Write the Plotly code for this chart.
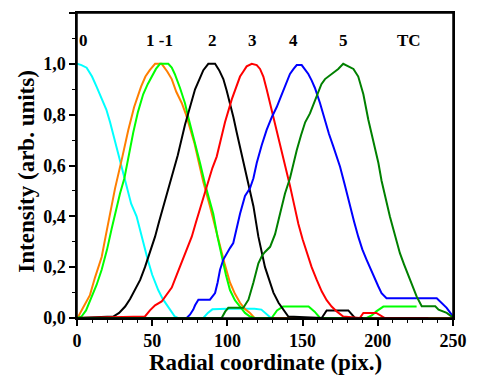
import plotly.graph_objects as go

# Order 0 (cyan)
x_c = [0, 3, 6.4, 10, 13, 16, 19.5, 22, 25, 28, 31, 33, 36, 39.6, 43, 47, 50, 54, 57, 61, 65, 67, 84, 87, 90, 100, 110, 118, 122.6, 126, 129, 138]
y_c = [1.0, 0.995, 0.985, 0.95, 0.91, 0.87, 0.82, 0.77, 0.70, 0.63, 0.56, 0.51, 0.45, 0.40, 0.32, 0.23, 0.17, 0.11, 0.075, 0.04, 0.006, 0, 0, 0.02, 0.034, 0.036, 0.036, 0.036, 0.033, 0.015, 0, 0]

# Order 1 (orange)
x_o = [0, 0.9, 4, 8.6, 12, 16.4, 19, 21.9, 25.3, 30, 34.1, 38, 42.6, 45.5, 48.5, 51.9, 56.3, 60, 63, 66, 69.7, 72.5, 75.2, 78, 80.7, 84, 88.4, 91.7, 95, 98.3, 101.7, 105, 108.4, 111.7, 115, 118, 250]
y_o = [0, 0.006, 0.04, 0.09, 0.16, 0.24, 0.32, 0.41, 0.51, 0.63, 0.74, 0.83, 0.91, 0.95, 0.976, 1.0, 1.0, 0.97, 0.94, 0.89, 0.845, 0.80, 0.75, 0.69, 0.62, 0.535, 0.44, 0.36, 0.28, 0.21, 0.14, 0.095, 0.06, 0.035, 0.02, 0.0, 0.0]

# Order -1 (lime)
x_l = [0, 3, 6, 9.8, 13, 16.4, 20, 23, 26, 28.6, 31.5, 34, 37.4, 40.5, 44, 47, 49.6, 52.5, 55.2, 60.7, 63, 65, 68.5, 71.8, 74, 76.3, 79, 81.8, 85, 87.8, 90.6, 93.4, 96.2, 99, 101.7, 105, 108.4, 111.7, 115, 118, 129.4, 133, 137, 154, 158, 161.6, 192.6, 196, 199, 203.7, 225.8]
y_l = [0, 0.006, 0.03, 0.085, 0.13, 0.19, 0.27, 0.35, 0.43, 0.49, 0.55, 0.63, 0.73, 0.81, 0.88, 0.92, 0.95, 0.98, 1.0, 1.0, 0.985, 0.96, 0.905, 0.845, 0.79, 0.74, 0.68, 0.61, 0.53, 0.47, 0.41, 0.32, 0.24, 0.17, 0.11, 0.07, 0.045, 0.02, 0.006, 0, 0, 0.03, 0.045, 0.045, 0.025, 0, 0, 0.01, 0.026, 0.045, 0.045]

# Order 2 (black)
x_k = [0, 24.1, 28, 32, 35.3, 38.6, 42, 45.2, 48.5, 51.9, 54.6, 57.4, 60.7, 63, 67, 71.8, 75.1, 78.5, 81.8, 84, 87.3, 91.8, 94.5, 97.3, 99.5, 101.7, 104, 106.2, 108.4, 110.6, 112.8, 115, 117.3, 120.6, 122.8, 125, 127.8, 130.6, 134, 137.2, 140.5, 162.7, 166, 180.4, 184.8, 190]
y_k = [0, 0.006, 0.02, 0.045, 0.075, 0.11, 0.15, 0.20, 0.26, 0.32, 0.38, 0.44, 0.50, 0.55, 0.64, 0.76, 0.83, 0.90, 0.945, 0.975, 1.0, 1.0, 0.975, 0.94, 0.895, 0.845, 0.79, 0.73, 0.675, 0.62, 0.56, 0.50, 0.44, 0.32, 0.26, 0.20, 0.15, 0.10, 0.06, 0.033, 0.006, 0, 0.03, 0.03, 0, 0]

# Order 3 (red)
x_r = [0, 45.2, 48.5, 51.9, 56.3, 59.5, 63, 66.3, 69.7, 73, 76.3, 79, 81.8, 85.1, 87.3, 90, 92.9, 95.6, 98.4, 102.9, 105.6, 108.4, 110.6, 112.8, 116.2, 119.5, 121.7, 123.9, 126.1, 128.4, 130.6, 132.8, 135, 137.2, 139.4, 141.6, 144.4, 147.2, 150, 152.8, 156, 159.4, 162.7, 166, 169.3, 172.7, 177, 188, 190.4, 199, 204.7, 233.6]
y_r = [0, 0.006, 0.03, 0.05, 0.065, 0.09, 0.12, 0.17, 0.22, 0.27, 0.32, 0.375, 0.43, 0.50, 0.54, 0.59, 0.635, 0.70, 0.77, 0.86, 0.905, 0.95, 0.97, 0.99, 1.0, 0.995, 0.98, 0.95, 0.90, 0.845, 0.79, 0.74, 0.69, 0.635, 0.58, 0.52, 0.445, 0.37, 0.31, 0.255, 0.20, 0.15, 0.105, 0.07, 0.045, 0.026, 0.006, 0, 0.02, 0.02, 0, 0]

# Order 4 (blue)
x_b = [0, 72.9, 75.1, 77.3, 78.5, 80.7, 88.4, 91.8, 93.5, 95.1, 97.3, 99.5, 101.7, 103.9, 106, 108.4, 111.7, 115, 117.3, 119.5, 122.8, 126.1, 129.5, 132.8, 135.5, 138.3, 141.6, 144, 146.1, 149.4, 151.5, 153.8, 156, 158.2, 161.6, 164.6, 167.5, 170.4, 174.9, 178.2, 181.4, 184.2, 187, 189.7, 192.5, 195.3, 198, 200.3, 202.5, 205.8, 239.2, 242.5, 245.8, 249.1, 250]
y_b = [0, 0, 0.013, 0.033, 0.05, 0.072, 0.072, 0.098, 0.14, 0.19, 0.23, 0.255, 0.275, 0.295, 0.35, 0.41, 0.48, 0.51, 0.55, 0.61, 0.68, 0.74, 0.79, 0.83, 0.87, 0.91, 0.96, 0.98, 0.995, 0.995, 0.98, 0.96, 0.935, 0.905, 0.845, 0.78, 0.725, 0.675, 0.595, 0.52, 0.44, 0.38, 0.32, 0.27, 0.23, 0.19, 0.157, 0.125, 0.098, 0.078, 0.078, 0.059, 0.04, 0.013, 0.006]

# Order 5 (dark green)
x_g = [0, 96.2, 98.5, 100.6, 110.6, 114, 117.3, 120.6, 123, 125, 128.4, 131.7, 135, 138.3, 141.6, 143.8, 146.1, 149, 151.7, 154.9, 159.4, 162.5, 164.9, 169.3, 173.7, 177, 180.4, 183.8, 187, 190.4, 193.7, 197, 200.4, 202.5, 205.8, 208, 210.3, 212.5, 214.7, 217.5, 220.3, 223, 225.8, 229.2, 238.2, 240.4, 243, 245.8, 249.1, 250]
y_g = [0, 0, 0.025, 0.04, 0.04, 0.072, 0.14, 0.215, 0.245, 0.26, 0.28, 0.33, 0.41, 0.49, 0.55, 0.61, 0.66, 0.72, 0.77, 0.805, 0.87, 0.92, 0.94, 0.96, 0.98, 1.0, 0.99, 0.98, 0.95, 0.88, 0.78, 0.70, 0.61, 0.54, 0.45, 0.40, 0.35, 0.30, 0.255, 0.21, 0.165, 0.125, 0.085, 0.046, 0.046, 0.033, 0.026, 0.02, 0.006, 0.006]

label_text = ["0", "1 -1", "2", "3", "4", "5", "TC"]
label_x = [4, 55, 90, 117, 144, 177.5, 221]
label_y = [1.093] * 7

x_ticks = [0, 50, 100, 150, 200, 250]
y_ticks = [0.0, 0.2, 0.4, 0.6, 0.8, 1.0, 1.2]
x_range = [0, 250]
y_range = [0, 1.2]

x_title = "Radial coordinate (pix.)"
y_title = "Intensity (arb. units)"

FONT = "Liberation Serif, Times New Roman, serif"

series = [
    (x_c, y_c, "#00FFFF"),
    (x_o, y_o, "#FF7F00"),
    (x_l, y_l, "#00FF00"),
    (x_k, y_k, "#000000"),
    (x_r, y_r, "#FF0000"),
    (x_b, y_b, "#0000FF"),
    (x_g, y_g, "#008000"),
]

fig = go.Figure()
for xs, ys, col in series:
    fig.add_trace(go.Scatter(x=xs, y=ys, mode="lines",
                             line=dict(color=col, width=2), showlegend=False))

# invisible trace on overlay axes (top / right) so their lines are drawn as the frame
fig.add_trace(go.Scatter(x=x_range, y=y_range, xaxis="x2", yaxis="y2", mode="lines",
                         line=dict(width=0, color="rgba(0,0,0,0)"),
                         showlegend=False, hoverinfo="skip"))

for t, xx, yy in zip(label_text, label_x, label_y):
    fig.add_annotation(x=xx, y=yy, text=t, showarrow=False,
                       font=dict(family=FONT, size=17, color="black", weight="bold"),
                       xanchor="center", yanchor="middle")

fig.add_annotation(xref="paper", yref="paper", x=0.5, y=-0.147, text=x_title,
                   showarrow=False, xanchor="center", yanchor="middle",
                   font=dict(family=FONT, size=23, color="black", weight="bold"))
fig.add_annotation(xref="paper", yref="paper", x=-0.133, y=0.483, text=y_title,
                   showarrow=False, xanchor="center", yanchor="middle", textangle=-90,
                   font=dict(family=FONT, size=23, color="black", weight="bold"))

# frame rectangle in data coordinates of the axis range
fig.add_shape(type="rect", xref="x", yref="y", x0=x_range[0], x1=x_range[1],
              y0=y_range[0], y1=y_range[1], line=dict(color="black", width=1.5),
              fillcolor="rgba(0,0,0,0)", layer="above")

axis_common = dict(
    showline=True, linecolor="black", linewidth=1.5, mirror=True,
    ticks="outside", ticklen=6, tickwidth=1.5, tickcolor="black",
    showgrid=False, zeroline=False, automargin=False,
    tickfont=dict(family=FONT, size=18, color="black", weight="bold"),
)

fig.update_layout(
    xaxis=dict(range=x_range, tickvals=x_ticks,
               minor=dict(dtick=10, ticklen=3, tickwidth=1.2, tickcolor="black", ticks="outside"),
               **axis_common),
    yaxis=dict(range=y_range, tickvals=y_ticks, tickformat=".1f",
               minor=dict(dtick=0.1, ticklen=3, tickwidth=1.2, tickcolor="black", ticks="outside"),
               **axis_common),
    xaxis2=dict(range=x_range, overlaying="x", side="top", showline=True,
                linecolor="black", linewidth=1.5, ticks="", showticklabels=False,
                showgrid=False, zeroline=False, automargin=False),
    yaxis2=dict(range=y_range, overlaying="y", side="right", showline=True,
                linecolor="black", linewidth=1.5, ticks="", showticklabels=False,
                showgrid=False, zeroline=False, automargin=False),
    width=472, height=370,
    margin=dict(l=69, r=27, t=5, b=60),
    paper_bgcolor="white", plot_bgcolor="white",
    separators=", ",
)

fig.write_html("out.html")
